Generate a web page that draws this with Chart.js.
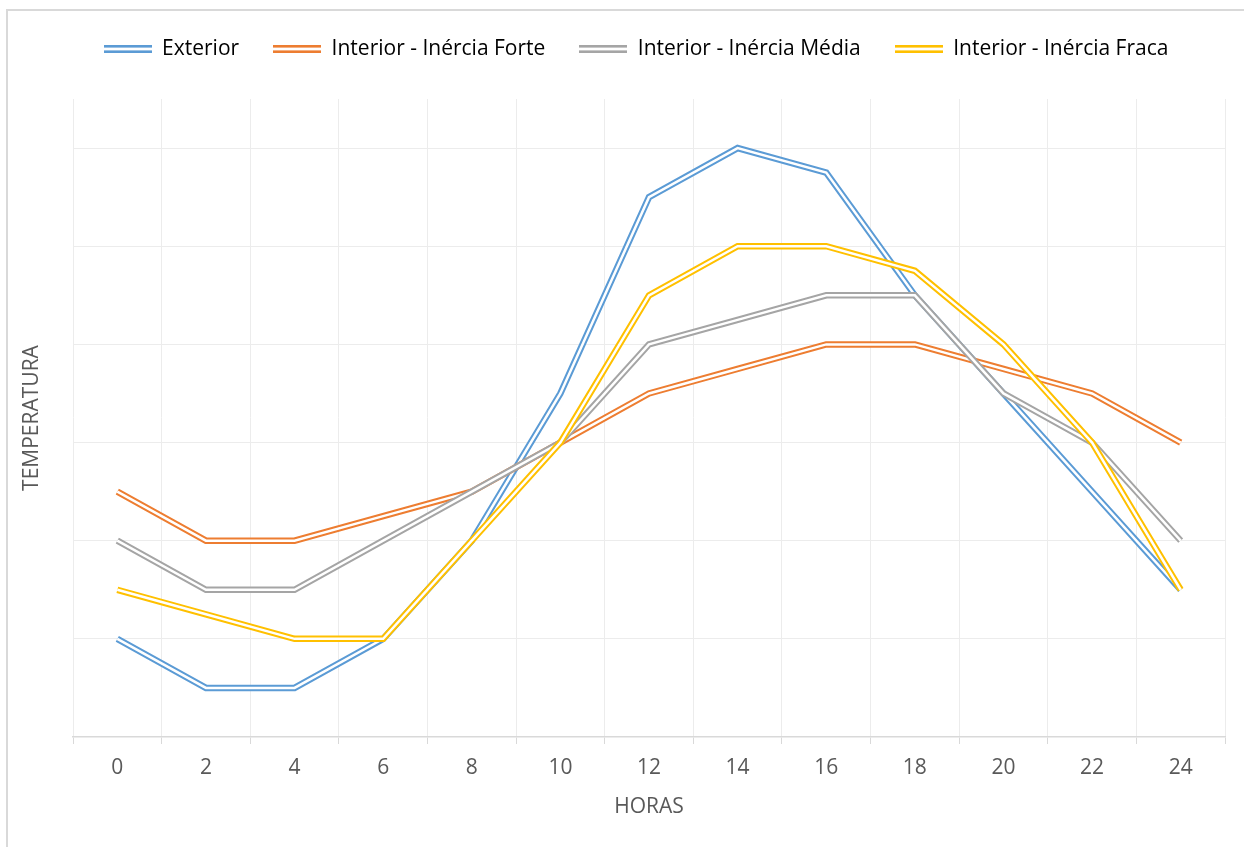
<!DOCTYPE html>
<html>
<head>
<meta charset="utf-8">
<script src="https://cdn.jsdelivr.net/npm/chart.js@4/dist/chart.umd.min.js"></script>
<style>
  body { margin: 0; background: #fff; }
  canvas { display: block; }
</style>
</head>
<body>
<canvas id="chart" width="1244" height="847"></canvas>
<script>
const horas = ['0', '2', '4', '6', '8', '10', '12', '14', '16', '18', '20', '22', '24']
const exterior = [1, 0.5, 0.5, 1, 2, 3.5, 5.5, 6, 5.75, 4.5, 3.5, 2.5, 1.5]
const inerciaForte = [2.5, 2, 2, 2.25, 2.5, 3, 3.5, 3.75, 4, 4, 3.75, 3.5, 3]
const inerciaMedia = [2, 1.5, 1.5, 2, 2.5, 3, 4, 4.25, 4.5, 4.5, 3.5, 3, 2]
const inerciaFraca = [1.5, 1.25, 1, 1, 2, 3, 4.5, 5, 5, 4.75, 4, 3, 1.5]

const series = [
    { label: 'Exterior', data: exterior, color: '#5B9BD5' },
    { label: 'Interior - Inércia Forte', data: inerciaForte, color: '#ED7D31' },
    { label: 'Interior - Inércia Média', data: inerciaMedia, color: '#A5A5A5' },
    { label: 'Interior - Inércia Fraca', data: inerciaFraca, color: '#FFC000' }
]

const textColor = '#595959'
const font = { family: "'Open Sans'", size: 21 }

// small double-stroke swatch used as the legend marker
function swatch(color) {
    const c = document.createElement('canvas')
    c.width = 48
    c.height = 8
    const g = c.getContext('2d')
    g.fillStyle = color
    g.fillRect(0, 0, 48, 2.6)
    g.fillRect(0, 5.4, 48, 2.6)
    return c
}

// each series is a wide coloured stroke with a thin white stroke on top,
// later series drawn over earlier ones
const datasets = []
series.forEach((s, i) => {
    datasets.push({
        label: s.label,
        data: s.data,
        borderColor: s.color,
        borderWidth: 6.5,
        pointRadius: 0,
        tension: 0,
        order: 20 - i * 2
    })
    datasets.push({
        label: s.label + ' (core)',
        data: s.data,
        borderColor: '#ffffff',
        borderWidth: 2.5,
        pointRadius: 0,
        tension: 0,
        order: 19 - i * 2
    })
})

const frame = {
    id: 'frame',
    beforeDraw(chart) {
        const ctx = chart.ctx
        ctx.save()
        ctx.fillStyle = '#ffffff'
        ctx.fillRect(0, 0, chart.width, chart.height)
        ctx.strokeStyle = '#d9d9d9'
        ctx.lineWidth = 2
        ctx.strokeRect(7, 10, chart.width + 50, chart.height + 50)
        ctx.restore()
    }
}

const ctx = document.getElementById('chart').getContext('2d')
const myChart = new Chart(ctx, {
    type: 'line',
    data: { labels: horas, datasets: datasets },
    plugins: [frame],
    options: {
        responsive: false,
        animation: false,
        layout: { padding: { top: 4.5, left: 47, right: 19, bottom: 0 } },
        plugins: {
            tooltip: { enabled: false },
            legend: {
                position: 'top',
                labels: {
                    usePointStyle: true,
                    pointStyleWidth: 48,
                    padding: 34,
                    color: textColor,
                    font: font,
                    generateLabels: () => series.map((s, i) => ({
                        text: s.label,
                        pointStyle: swatch(s.color),
                        fillStyle: s.color,
                        strokeStyle: s.color,
                        lineWidth: 0,
                        hidden: false,
                        datasetIndex: i * 2
                    }))
                }
            },
            // empty spacer between legend and plot
            title: {
                display: true,
                text: '',
                weight: 500,
                font: { size: 10 },
                padding: { top: 0, bottom: 17.5 }
            }
        },
        scales: {
            x: {
                type: 'category',
                offset: true,
                grid: {
                    offset: true,
                    color: '#ececec',
                    tickColor: '#d9d9d9',
                    tickLength: 7
                },
                border: { color: '#d9d9d9', width: 1.5 },
                ticks: { color: textColor, font: font, padding: 11, maxRotation: 0 },
                title: {
                    display: true,
                    text: 'HORAS',
                    color: textColor,
                    font: font,
                    padding: { top: 0, bottom: 27.4 }
                },
                afterFit: scale => { scale.height = 110 }
            },
            y: {
                min: 0,
                max: 6.5,
                ticks: { display: false, stepSize: 1 },
                afterBuildTicks: scale => {
                    scale.ticks = scale.ticks.filter(t => Number.isInteger(t.value))
                },
                grid: {
                    drawTicks: false,
                    color: c => c.tick && c.tick.value === 0 ? 'rgba(0,0,0,0)' : '#ececec'
                },
                border: { display: false },
                title: {
                    display: true,
                    text: 'TEMPERATURA',
                    color: textColor,
                    font: font,
                    padding: { top: -27.6, bottom: 0 }
                },
                afterFit: scale => { scale.width = 26 }
            }
        }
    }
})
</script>
</body>
</html>
